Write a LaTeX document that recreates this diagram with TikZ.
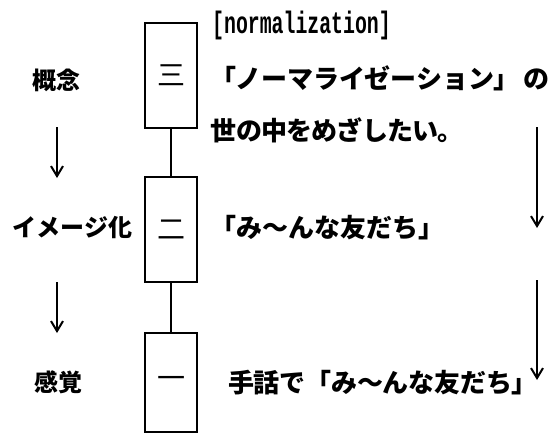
\documentclass[tikz,border=0pt]{standalone}
\usepackage{fontspec}
\usetikzlibrary{arrows.meta}
\newfontfamily\jp{Noto Sans CJK JP}
\newfontfamily\monof[FakeStretch=0.64]{Liberation Mono Bold}
\makeatletter
\newdimen\chw
\def\spaced#1#2{\chw=#1\relax\sp@loop#2\@nil}
\def\sp@loop#1{\ifx#1\@nil\else\hbox to\chw{\hss#1\hss}\expandafter\sp@loop\fi}
\makeatother
\begin{document}
\begin{tikzpicture}[x=1pt,y=-1pt,
  box/.style={draw,line width=2.6pt,minimum width=52pt,inner sep=0pt,font=\jp\fontsize{28}{28}\selectfont},
  lbl/.style={anchor=base west,inner sep=0pt,font=\jp\bfseries\fontsize{24}{24}\selectfont},
  txt/.style={anchor=base west,inner sep=0pt,font=\jp\bfseries\fontsize{26}{26}\selectfont},
  conn/.style={line width=2.4pt},
  arr/.style={line width=2pt,-{Straight Barb[length=10pt,width=12pt]}}]
\useasboundingbox (0,0) rectangle (559,434);
% boxes
\node[box,minimum height=105pt] (b3) at (171,75.5) {三};
\node[box,minimum height=105pt] (b2) at (171,229.5) {二};
\node[box,minimum height=99pt] (b1) at (171,382.5) {一};
\draw[conn] (b3.south) -- (b2.north);
\draw[conn] (b2.south) -- (b1.north);
% left labels
\node[lbl] (l3) at (32,89) {\spaced{24pt}{概念}};
\node[lbl] (l2) at (12,236) {\spaced{24pt}{イメージ化}};
\node[lbl] (l1) at (34,391) {\spaced{24pt}{感覚}};
\coordinate (la1) at (57,127);
\coordinate (la2) at (57,178);
\coordinate (lb1) at (57,282);
\coordinate (lb2) at (57,333);
\draw[arr] (la1) -- (la2);
\draw[arr] (lb1) -- (lb2);
% right texts
\node[anchor=base west,inner sep=0pt,font=\monof\fontsize{31}{31}\selectfont] (norm) at (212,33.5) {[normalization]};
\node[txt] (t1) at (210,88) {\spaced{25.8pt}{「ノーマライゼーション」}\hspace{4pt}\spaced{25.8pt}{の}};
\node[txt] (t2) at (211,140) {\spaced{25.2pt}{世の中をめざしたい。}};
\node[txt] (t3) at (210,237) {\spaced{26pt}{「み〜んな友だち」}};
\node[txt] (t4) at (228,392) {\spaced{25.8pt}{手話で「み〜んな友だち」}};
\coordinate (ra1) at (537,127);
\coordinate (ra2) at (537,228);
\coordinate (rb1) at (537,280);
\coordinate (rb2) at (537,380);
\draw[arr] (ra1) -- (ra2);
\draw[arr] (rb1) -- (rb2);
\end{tikzpicture}
\end{document}
